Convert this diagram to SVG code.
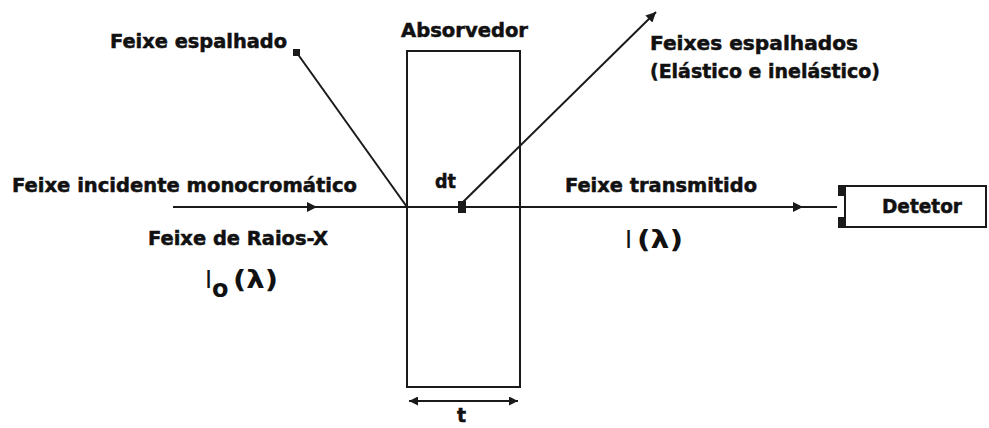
<svg xmlns="http://www.w3.org/2000/svg" width="989" height="428" viewBox="0 0 989 428">
<style>
.lbl{font-family:"DejaVu Sans",Verdana,sans-serif;font-weight:bold;font-size:19px;fill:#111;stroke:#111;stroke-width:0.5}
.sym{font-family:"DejaVu Sans",sans-serif;font-size:24px;fill:#111}
.ln{stroke:#1a1a1a;stroke-width:2;fill:none}
</style>
<defs>
<marker id="ah" viewBox="0 0 10 10" refX="10" refY="5" markerWidth="10" markerHeight="10" markerUnits="userSpaceOnUse" orient="auto">
<path d="M0,0 L10,5 L0,10 Z" fill="#1a1a1a"/>
</marker>
<marker id="ahs" viewBox="0 0 10 10" refX="10" refY="5" markerWidth="9" markerHeight="9" markerUnits="userSpaceOnUse" orient="auto-start-reverse">
<path d="M0,0 L10,5 L0,10 Z" fill="#1a1a1a"/>
</marker>
</defs>
<rect width="989" height="428" fill="#fff"/>
<g id="absorvedor">
<rect x="407" y="51" width="113" height="336" class="ln"/>
<text class="lbl" x="401" y="37" textLength="127" lengthAdjust="spacingAndGlyphs">Absorvedor</text>
</g>
<g id="detetor">
<rect x="845" y="186" width="141" height="41" class="ln"/>
<rect x="838" y="185" width="8" height="11" fill="#1a1a1a"/>
<rect x="838" y="217" width="8" height="11" fill="#1a1a1a"/>
<text class="lbl" x="882" y="213" textLength="80" lengthAdjust="spacingAndGlyphs">Detetor</text>
</g>
<g id="connectors">
<line x1="173" y1="207" x2="837" y2="207" class="ln"/>
<line x1="173" y1="207" x2="317" y2="207" class="ln" marker-end="url(#ah)"/>
<line x1="520" y1="207" x2="803" y2="207" class="ln" marker-end="url(#ah)"/>
<line x1="407" y1="207" x2="297" y2="53" class="ln"/>
<rect x="293" y="49" width="7" height="7" fill="#1a1a1a"/>
<line x1="462" y1="203" x2="656" y2="12" class="ln" marker-end="url(#ah)"/>
<rect x="458" y="201" width="8" height="12" fill="#1a1a1a"/>
<line x1="409" y1="401" x2="518" y2="401" class="ln" marker-start="url(#ahs)" marker-end="url(#ahs)"/>
</g>
<g id="labels">
<text class="lbl" x="110" y="48" textLength="177" lengthAdjust="spacingAndGlyphs">Feixe espalhado</text>
<text class="lbl" x="650" y="50" textLength="208" lengthAdjust="spacingAndGlyphs">Feixes espalhados</text>
<text class="lbl" x="650" y="78" textLength="230" lengthAdjust="spacingAndGlyphs">(Elástico e inelástico)</text>
<text class="lbl" x="12" y="192" textLength="345" lengthAdjust="spacingAndGlyphs">Feixe incidente monocromático</text>
<text class="lbl" x="148" y="245" textLength="180" lengthAdjust="spacingAndGlyphs">Feixe de Raios-X</text>
<text class="lbl" x="435" y="188" textLength="21" lengthAdjust="spacingAndGlyphs">dt</text>
<text class="lbl" x="565" y="192" textLength="192" lengthAdjust="spacingAndGlyphs">Feixe transmitido</text>
<text class="lbl" x="457" y="422" font-size="20">t</text>
<text class="sym" x="205" y="288">I</text>
<text class="sym" x="212" y="297" font-weight="bold" font-size="19">o</text>
<text class="sym" x="233" y="288" font-weight="bold" textLength="45" lengthAdjust="spacingAndGlyphs">(λ)</text>
<text class="sym" x="625" y="248">I</text>
<text class="sym" x="637" y="248" font-weight="bold" textLength="46" lengthAdjust="spacingAndGlyphs">(λ)</text>
</g>
</svg>
